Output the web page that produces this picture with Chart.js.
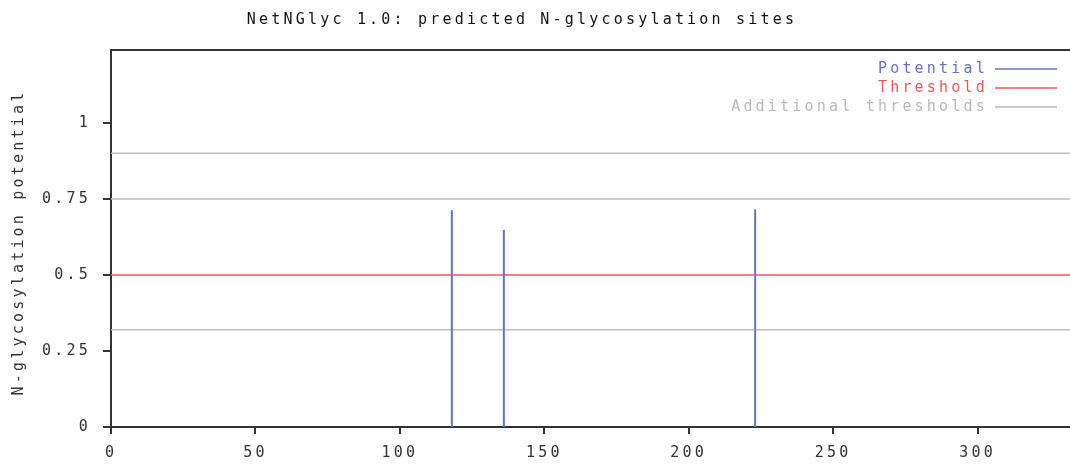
<!DOCTYPE html>
<html>
<head>
<meta charset="utf-8">
<script src="https://cdn.jsdelivr.net/npm/chart.js@4"></script>
<style>
html,body{margin:0;padding:0;background:#fff;}
#c{display:block;}
</style>
</head>
<body>
<canvas id="c" width="1070" height="464"></canvas>
<script>
const TITLE="NetNGlyc 1.0: predicted N-glycosylation sites";
const Y_TITLE="N-glycosylation potential";
const X_MAX=332, Y_MAX=1.24;
const SITES=[118,136,223];
const POTENTIAL=[0.713,0.648,0.716];
const THRESHOLD=0.5;
const EXTRA=[0.32,0.75,0.9];
const LEGEND=[["Potential","#6572c4"],["Threshold","#e85a5a"],["Additional thresholds","#b9b9b9"]];
const FONT='"DejaVu Sans Mono",monospace';
const INK="#333";
const SP="3.2px";

const hline=(y,color,w)=>({type:"line",data:[{x:0,y},{x:X_MAX,y}],borderColor:color,borderWidth:w,pointRadius:0,order:2});
const datasets=[
  ...EXTRA.map(y=>hline(y,"#bdbdbd",1.5)),
  hline(THRESHOLD,"#e85a5a",1.5),
  ...SITES.map((s,i)=>({type:"line",data:[{x:s,y:0},{x:s,y:POTENTIAL[i]}],borderColor:"#6572c4",borderWidth:2,pointRadius:0,order:1})),
];

// title, legend, y title and the top frame line
const deco={id:"deco",
  beforeDraw(c){ c.ctx.letterSpacing=SP; },
  afterDraw(c){
    const g=c.ctx,a=c.chartArea;
    g.save();
    g.letterSpacing=SP;
    g.strokeStyle=INK; g.lineWidth=2;
    g.beginPath(); g.moveTo(a.left-1,a.top); g.lineTo(a.right,a.top); g.stroke();
    g.font="15px "+FONT; g.textBaseline="middle";
    g.fillStyle="#111"; g.textAlign="center";
    g.fillText(TITLE,522,20);
    g.textAlign="right";
    LEGEND.forEach(([t,col],i)=>{
      const y=69+i*19;
      g.fillStyle=col; g.fillText(t,988,y);
      g.strokeStyle=col; g.lineWidth=1.5;
      g.beginPath(); g.moveTo(995,y); g.lineTo(1057,y); g.stroke();
    });
    g.translate(19,(a.top+a.bottom)/2+4);
    g.rotate(-Math.PI/2);
    g.textAlign="center"; g.fillStyle=INK;
    g.fillText(Y_TITLE,0,0);
    g.restore();
  }};

new Chart(document.getElementById("c"),{
  type:"line",
  data:{datasets},
  options:{responsive:false,animation:false,
    layout:{padding:{top:50,right:0,left:0,bottom:0}},
    plugins:{legend:{display:false},tooltip:{enabled:false}},
    scales:{
      x:{type:"linear",min:0,max:X_MAX,
        afterFit:s=>{s.height=37;},
        grid:{drawOnChartArea:false,drawTicks:true,tickLength:7,color:INK,lineWidth:2},
        border:{color:INK,width:2},
        ticks:{stepSize:50,includeBounds:false,padding:10,color:INK,font:{family:FONT,size:15},maxRotation:0}},
      y:{min:0,max:Y_MAX,
        afterFit:s=>{s.width=111;},
        grid:{drawOnChartArea:false,drawTicks:true,tickLength:8,color:INK,lineWidth:2},
        border:{color:INK,width:2},
        ticks:{stepSize:0.25,includeBounds:false,padding:12,color:INK,font:{family:FONT,size:15},
          callback:v=>String(+v.toFixed(2))}}
    }},
  plugins:[deco]
});
</script>
</body>
</html>
